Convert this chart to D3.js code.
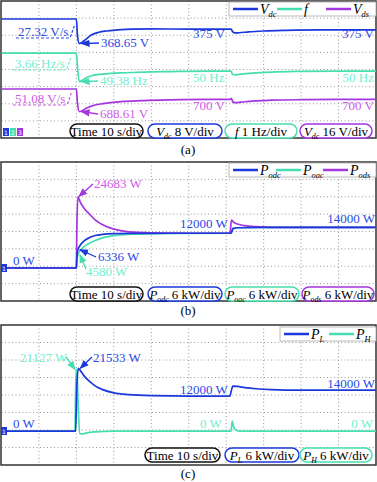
<!DOCTYPE html>
<html>
<head>
<meta charset="utf-8">
<script src="https://cdn.jsdelivr.net/npm/d3@7"></script>
<style>
  body { margin: 0; background: #fff; }
  svg { display: block; font-family: "Liberation Serif", "Times New Roman", serif; }
</style>
</head>
<body>
<div id="chart"></div>
<script>
// ---- data (time in s, values in channel units) ----
// panel (a)
var vdcT = [0, 20, 20.3, 20.8, 21.5, 22.5, 24, 26, 28, 31, 35, 40, 50, 61.3, 61.7, 62.3, 63.5, 66, 70, 76, 85, 100];
var vdcV = [380.1, 380.1, 372, 368.65, 369.2, 370.6, 372.6, 373.9, 374.5, 375, 375.4, 375.5, 375.4, 375.4, 374.2, 373.6, 373.7, 374.1, 374.5, 374.8, 375, 375];
var fT = [0, 20, 20.3, 20.8, 21.5, 22.5, 24, 26, 29, 33, 38, 45, 55, 61.3, 61.7, 62.5, 64, 67, 72, 80, 90, 100];
var fV = [51.05, 51.05, 50.2, 49.38, 49.45, 49.6, 49.72, 49.8, 49.86, 49.9, 49.94, 49.97, 50, 50, 49.8, 49.78, 49.82, 49.88, 49.94, 49.98, 50, 50];
var vdsT = [0, 20, 20.3, 20.8, 21.5, 22.5, 24, 26, 29, 33, 38, 45, 55, 61, 61.4, 61.8, 62.5, 64, 67, 72, 80, 90, 100];
var vdsV = [709.8, 709.8, 696, 688.61, 689.5, 691.5, 693.8, 695.5, 697, 698.2, 699, 699.6, 700, 700, 701, 697.5, 697, 697.5, 698.5, 699.3, 699.8, 700, 700];
// panel (b)
var podcT = [0, 20, 20.1, 20.4, 21, 22, 23.5, 25, 27, 30, 35, 45, 61.3, 61.8, 63, 70, 80, 100];
var podcV = [0, 0, 3000, 6336, 7800, 9300, 10500, 11200, 11600, 11850, 11950, 12000, 12000, 13600, 13900, 14000, 14000, 14000];
var poacT = [0, 20, 20.1, 20.4, 21, 22, 24, 27, 31, 36, 42, 50, 61.3, 61.8, 63, 70, 80, 100];
var poacV = [0, 0, 2500, 4580, 6000, 7300, 8900, 10400, 11300, 11700, 11900, 11980, 12000, 13600, 13900, 14000, 14000, 14000];
var podsT = [0, 20, 20.1, 20.4, 21, 22, 23.5, 25, 27, 30, 34, 40, 50, 61, 61.4, 62, 63, 65, 68, 72, 80, 100];
var podsV = [0, 0, 12000, 24683, 22800, 20700, 18600, 16600, 14900, 13400, 12500, 12150, 12000, 12000, 16500, 15800, 15200, 14600, 14250, 14050, 14000, 14000];
// panel (c)
var plT = [0, 19.8, 20.1, 20.5, 21, 22, 23.5, 25, 27, 30, 34, 40, 50, 61, 61.3, 61.8, 63, 65, 68, 72, 80, 100];
var plV = [0, 0, 15000, 21533, 20800, 19000, 17000, 15500, 14200, 13100, 12500, 12150, 12000, 12000, 13500, 15400, 15300, 14900, 14500, 14200, 14000, 14000];
var phT = [0, 19.6, 19.9, 20.2, 20.5, 20.9, 21.5, 22.5, 24, 27, 30, 61, 61.3, 61.6, 62, 62.5, 63.5, 100];
var phV = [0, 0, 21127, 19000, 8000, -800, -1000, -700, -400, -150, 0, 0, 0, 3400, 1500, 400, 0, 0];

var blue = "#1c38dc", green = "#45deb0", purple = "#a436e0";
var blueTxt = "#2a4ae6", greenTxt = "#72efcd", purpleTxt = "#d05ce8";

var svg = d3.select("#chart").append("svg")
  .attr("width", 377)
  .attr("height", 482);

// arrow heads
var defs = svg.append("defs");
[["b", blue], ["g", green], ["p", purple]].forEach(function (m) {
  defs.append("marker")
    .attr("id", "ah-" + m[0])
    .attr("viewBox", "0 0 10 10")
    .attr("refX", 9).attr("refY", 5)
    .attr("markerWidth", 7).attr("markerHeight", 7)
    .attr("orient", "auto-start-reverse")
    .append("path")
    .attr("d", "M0,1L10,5L0,9z")
    .attr("fill", m[1]);
});

var x = d3.scaleLinear().domain([0, 100]).range([1.5, 376]);

// frame + dotted grid, returns the division height
function drawPanel(top, bottom) {
  var g = svg.append("g");
  var divH = (bottom - top) / 8;
  d3.range(1, 10).forEach(function (k) {
    g.append("line")
      .attr("x1", x(k * 10)).attr("x2", x(k * 10))
      .attr("y1", top).attr("y2", bottom)
      .attr("stroke", "#9a9a9a").attr("stroke-width", 1)
      .attr("stroke-dasharray", "1,2.5");
  });
  d3.range(1, 8).forEach(function (k) {
    g.append("line")
      .attr("x1", 1.5).attr("x2", 376)
      .attr("y1", top + k * divH).attr("y2", top + k * divH)
      .attr("stroke", "#9a9a9a").attr("stroke-width", 1)
      .attr("stroke-dasharray", "1,2.5");
  });
  g.append("rect")
    .attr("x", 1).attr("y", top)
    .attr("width", 375).attr("height", bottom - top)
    .attr("fill", "none").attr("stroke", "#333").attr("stroke-width", 1.5);
  return divH;
}

// channel scale: refVal sits refDiv divisions below the panel top
function chScale(top, divH, refVal, refDiv, perDiv) {
  return d3.scaleLinear()
    .domain([refVal, refVal - perDiv])
    .range([top + refDiv * divH, top + (refDiv + 1) * divH]);
}

function trace(ts, vs, y, color) {
  var line = d3.line()
    .x(function (d) { return x(d[0]); })
    .y(function (d) { return y(d[1]); })
    .curve(d3.curveMonotoneX);
  svg.append("path")
    .datum(d3.zip(ts, vs))
    .attr("d", line)
    .attr("fill", "none")
    .attr("stroke", color)
    .attr("stroke-width", 1.7);
}

function label(str, lx, ly, color, anchor) {
  svg.append("text")
    .attr("x", lx).attr("y", ly)
    .attr("fill", color)
    .attr("font-size", 13)
    .attr("text-anchor", anchor || "start")
    .text(str);
}

function arrow(x1, y1, x2, y2, color, key) {
  svg.append("line")
    .attr("x1", x1).attr("y1", y1).attr("x2", x2).attr("y2", y2)
    .attr("stroke", color).attr("stroke-width", 1.3)
    .attr("marker-end", "url(#ah-" + key + ")");
}

// slope note with dashed underline and a dashed slash
function slopeNote(str, lx, ly, color) {
  var t = svg.append("text")
    .attr("x", lx).attr("y", ly)
    .attr("fill", color).attr("font-size", 13)
    .text(str);
  var w = t.node().getComputedTextLength();
  svg.append("line")
    .attr("x1", lx - 2).attr("x2", lx + w + 1)
    .attr("y1", ly + 2).attr("y2", ly + 2)
    .attr("stroke", color).attr("stroke-width", 1.2)
    .attr("stroke-dasharray", "3,2");
  svg.append("line")
    .attr("x1", lx + w + 2).attr("x2", lx + w + 6)
    .attr("y1", ly + 1).attr("y2", ly - 10)
    .attr("stroke", color).attr("stroke-width", 1.2)
    .attr("stroke-dasharray", "3,1.5");
}

// rich text: parts = [[text, "i" | "s" | ""], ...]
function rich(g, parts, tx, ty, size, anchor) {
  var t = g.append("text")
    .attr("x", tx).attr("y", ty)
    .attr("font-size", size)
    .attr("text-anchor", anchor || "start")
    .attr("fill", "#000");
  var shifted = false;
  parts.forEach(function (p) {
    var s = t.append("tspan").text(p[0]);
    if (p[1] === "i") s.attr("font-style", "italic");
    if (p[1] === "s") {
      s.attr("font-style", "italic").attr("font-size", size * 0.6).attr("dy", 3);
      shifted = true;
    } else if (shifted) {
      s.attr("dy", -3);
      shifted = false;
    }
  });
  return t;
}

function infoBox(x0, x1, y0, color, parts) {
  var g = svg.append("g");
  g.append("rect")
    .attr("x", x0).attr("y", y0)
    .attr("width", x1 - x0).attr("height", 14)
    .attr("rx", 7).attr("ry", 7)
    .attr("fill", "#fff").attr("stroke", color).attr("stroke-width", 1.5);
  rich(g, parts, (x0 + x1) / 2, y0 + 11.5, 13, "middle");
}

function legend(x0, x1, y0, items) {
  var g = svg.append("g");
  g.append("rect")
    .attr("x", x0).attr("y", y0)
    .attr("width", x1 - x0).attr("height", 14)
    .attr("fill", "#fff").attr("stroke", "#aaa").attr("stroke-width", 0.8);
  items.forEach(function (it) {
    g.append("line")
      .attr("x1", it.x).attr("x2", it.x + 25)
      .attr("y1", y0 + 7).attr("y2", y0 + 7)
      .attr("stroke", it.color).attr("stroke-width", 2.5);
    rich(g, it.parts, it.x + 27, y0 + 11.5, 14);
  });
}

function chanFlag(fx, fy, color, n) {
  svg.append("rect")
    .attr("x", fx).attr("y", fy).attr("width", 6).attr("height", 8)
    .attr("fill", color);
  svg.append("text")
    .attr("x", fx + 3).attr("y", fy + 6.5)
    .attr("font-size", 6).attr("fill", "#fff")
    .attr("text-anchor", "middle")
    .attr("font-family", "DejaVu Sans")
    .text(n);
}

function caption(str, cy) {
  svg.append("text")
    .attr("x", 188).attr("y", cy)
    .attr("font-size", 13).attr("text-anchor", "middle")
    .text(str);
}

// ---------------- panel (a) ----------------
var aTop = 1, aBot = 138;
var aDiv = drawPanel(aTop, aBot);
var yVdc = chScale(aTop, aDiv, 375, 1.69, 8);
var yF = chScale(aTop, aDiv, 50, 4.09, 1);
var yVds = chScale(aTop, aDiv, 700, 5.75, 16);
trace(vdcT, vdcV, yVdc, blue);
trace(fT, fV, yF, green);
trace(vdsT, vdsV, yVds, purple);

slopeNote("27.32 V/s", 18, 36, blueTxt);
slopeNote("3.66 Hz/s", 15, 68, greenTxt);
slopeNote("51.08 V/s", 15, 103, purpleTxt);
label("368.65 V", 101, 47, blueTxt);
arrow(99, 43, x(20.8) + 2, yVdc(368.65), blue, "b");
label("49.38 Hz", 100, 85, greenTxt);
arrow(98, 81, x(20.8) + 2, yF(49.38), green, "g");
label("688.61 V", 100, 118, purpleTxt);
arrow(98, 114, x(20.8) + 2, yVds(688.61), purple, "p");
label("375 V", 193, 38, blueTxt);
label("375 V", 374, 38, blueTxt, "end");
label("50 Hz", 193, 82, greenTxt);
label("50 Hz", 374, 82, greenTxt, "end");
label("700 V", 193, 110, purpleTxt);
label("700 V", 374, 110, purpleTxt, "end");

legend(229, 376, 2, [
  { x: 233, color: blue, parts: [["V", "i"], ["dc", "s"]] },
  { x: 277, color: green, parts: [["f", "i"]] },
  { x: 326, color: purple, parts: [["V", "i"], ["ds", "s"]] }
]);
infoBox(70, 143, 124, "#111", [["Time 10 s/div", ""]]);
infoBox(148, 222, 124, blue, [["V", "i"], ["dc", "s"], [" 8 V/div", ""]]);
infoBox(225, 297, 124, green, [["f", "i"], [" 1 Hz/div", ""]]);
infoBox(300, 372, 124, purple, [["V", "i"], ["dc", "s"], [" 16 V/div", ""]]);
chanFlag(3, 128, blue, "1");
chanFlag(10, 128, green, "2");
chanFlag(17, 128, purple, "3");
caption("(a)", 154);

// ---------------- panel (b) ----------------
var bTop = 162, bBot = 301;
var bDiv = drawPanel(bTop, bBot);
var yPb = chScale(bTop, bDiv, 0, 6.1, 6000);
trace(poacT, poacV, yPb, green);
trace(podsT, podsV, yPb, purple);
trace(podcT, podcV, yPb, blue);

label("24683 W", 94, 188, purpleTxt);
arrow(93, 184, x(20.4) + 1, yPb(24683), purple, "p");
label("6336 W", 98, 261, blueTxt);
arrow(96, 257, x(20.4) + 2, yPb(6336), blue, "b");
label("4580 W", 86, 275.5, greenTxt);
arrow(86, 269, x(20.4) + 2, yPb(4580), green, "g");
label("0 W", 13, 265, blueTxt);
label("12000 W", 180, 228, blueTxt);
label("14000 W", 375, 223, blueTxt, "end");

legend(229, 376, 163, [
  { x: 233, color: blue, parts: [["P", "i"], ["odc", "s"]] },
  { x: 276, color: green, parts: [["P", "i"], ["oac", "s"]] },
  { x: 323, color: purple, parts: [["P", "i"], ["ods", "s"]] }
]);
infoBox(70, 143, 287, "#111", [["Time 10 s/div", ""]]);
infoBox(148, 222, 287, blue, [["P", "i"], ["odc", "s"], [" 6 kW/div", ""]]);
infoBox(225, 299, 287, green, [["P", "i"], ["oac", "s"], [" 6 kW/div", ""]]);
infoBox(302, 374, 287, purple, [["P", "i"], ["ods", "s"], [" 6 kW/div", ""]]);
chanFlag(1, 264, blue, "1");
caption("(b)", 315);

// ---------------- panel (c) ----------------
var cTop = 325, cBot = 465;
var cDiv = drawPanel(cTop, cBot);
var yPc = chScale(cTop, cDiv, 0, 6.06, 6000);
trace(phT, phV, yPc, green);
trace(plT, plV, yPc, blue);

label("21127 W", 20, 362, greenTxt);
arrow(66, 357, x(19.9) - 1, yPc(21127), green, "g");
label("21533 W", 93, 362, blueTxt);
arrow(92, 357, x(20.5) + 2, yPc(21533), blue, "b");
label("0 W", 13, 428, blueTxt);
label("0 W", 200, 428, greenTxt);
label("0 W", 373, 428, greenTxt, "end");
label("12000 W", 180, 394, blueTxt);
label("14000 W", 375, 388, blueTxt, "end");

legend(280, 376, 327, [
  { x: 284, color: blue, parts: [["P", "i"], ["L", "s"]] },
  { x: 329, color: green, parts: [["P", "i"], ["H", "s"]] }
]);
infoBox(145, 220, 448, "#111", [["Time 10 s/div", ""]]);
infoBox(225, 299, 448, blue, [["P", "i"], ["L", "s"], [" 6 kW/div", ""]]);
infoBox(300, 372, 448, green, [["P", "i"], ["H", "s"], [" 6 kW/div", ""]]);
chanFlag(1, 427, blue, "1");
caption("(c)", 478);
</script>
</body>
</html>
